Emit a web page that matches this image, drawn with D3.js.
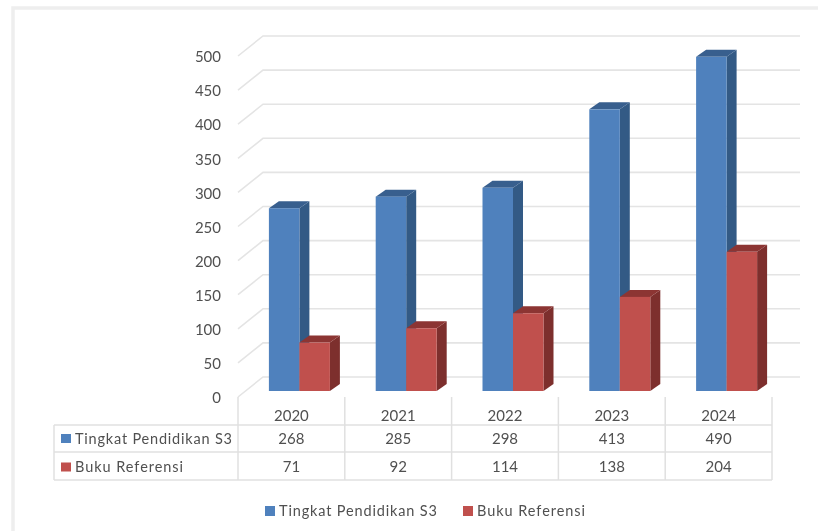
<!DOCTYPE html>
<html><head><meta charset="utf-8">
<script src="https://cdn.jsdelivr.net/npm/d3@7"></script>
<style>html,body{margin:0;padding:0;background:#fff}svg{display:block;filter:blur(0.7px)}text{font-family:Lato,"Open Sans",sans-serif;fill:#505050}</style>
</head><body><svg id="c" width="818" height="531"></svg>
<script>
const years=["2020","2021","2022","2023","2024"];
const seriesNames=["Tingkat Pendidikan S3","Buku Referensi"];
const s3Values=[268,285,298,413,490];
const bukuValues=[71,92,114,138,204];
const yTicks=[0,50,100,150,200,250,300,350,400,450,500];
const seriesColors=[{front:"#4f81bd",side:"#335a85",top:"#385f8e"},{front:"#c0504d",side:"#7d2f2d",top:"#8c3533"}];

const svg=d3.select("#c");
const y=d3.scaleLinear().domain([0,500]).range([391,50]);
const x=d3.scaleBand().domain(years).range([238,772]);
const dx=10,dy=-7,barW=30.5,barShift=8;
const wx=25,wy=-20;
const grid="#e4e4e4";

// panel edge
svg.append("path").attr("d","M13 531V8H818").attr("fill","none").attr("stroke","#eeeeee").attr("stroke-width",3.5);

// gridlines on back wall + side wall
yTicks.forEach(t=>{
  const fy=y(t)+6;
  svg.append("path").attr("d",`M238 ${fy}L${238+wx} ${fy+wy}H800`).attr("fill","none").attr("stroke",grid).attr("stroke-width",1.6);
  svg.append("text").attr("x",221).attr("y",fy+1).attr("dy","0.35em").attr("text-anchor","end").attr("font-size",15).text(t);
});

// bars
const all=[s3Values,bukuValues];
years.forEach((yr,i)=>{
  [0,1].forEach(k=>{
    const v=all[k][i], c=seriesColors[k];
    const x0=x(yr)+(x.bandwidth()-2*barW)/2+barShift+k*barW, x1=x0+barW, t=y(v), b=y(0);
    const g=svg.append("g");
    g.append("path").attr("d",`M${x1} ${t}L${x1+dx} ${t+dy}V${b+dy}L${x1} ${b}Z`).attr("fill",c.side);
    g.append("path").attr("d",`M${x0} ${t}L${x0+dx} ${t+dy}H${x1+dx}L${x1} ${t}Z`).attr("fill",c.top);
    g.append("rect").attr("x",x0).attr("y",t).attr("width",barW).attr("height",b-t).attr("fill",c.front);
  });
});

// data table
const rows=[425,452,480], tl="#e0e0e0";
rows.forEach(r=>svg.append("line").attr("x1",54).attr("x2",772).attr("y1",r).attr("y2",r).attr("stroke",tl).attr("stroke-width",1.5));
svg.append("line").attr("x1",54).attr("x2",54).attr("y1",425).attr("y2",480).attr("stroke",tl).attr("stroke-width",1.5);
[...years.map(d=>x(d)),772].forEach(vx=>svg.append("line").attr("x1",vx).attr("x2",vx).attr("y1",397).attr("y2",480).attr("stroke",tl).attr("stroke-width",1.5));
years.forEach((yr,i)=>{
  const cx=x(yr)+x.bandwidth()/2;
  svg.append("text").attr("x",cx).attr("y",416).attr("dy","0.35em").attr("text-anchor","middle").attr("font-size",15).text(yr);
  svg.append("text").attr("x",cx).attr("y",438.5).attr("dy","0.35em").attr("text-anchor","middle").attr("font-size",15).text(s3Values[i]);
  svg.append("text").attr("x",cx).attr("y",467).attr("dy","0.35em").attr("text-anchor","middle").attr("font-size",15).text(bukuValues[i]);
});
seriesNames.forEach((n,k)=>{
  const cy=[438.5,467][k];
  svg.append("rect").attr("x",61).attr("y",cy-4.5).attr("width",10).attr("height",9).attr("fill",seriesColors[k].front);
  svg.append("text").attr("x",75).attr("y",cy).attr("dy","0.35em").attr("font-size",14.5).attr("textLength",[157,108][k]).text(n);
});

// legend
[[265,279,158],[463,477,108]].forEach((p,k)=>{
  svg.append("rect").attr("x",p[0]).attr("y",506).attr("width",10).attr("height",10).attr("fill",seriesColors[k].front);
  svg.append("text").attr("x",p[1]).attr("y",511).attr("dy","0.35em").attr("font-size",14.5).attr("textLength",p[2]).text(seriesNames[k]);
});
</script></body></html>
